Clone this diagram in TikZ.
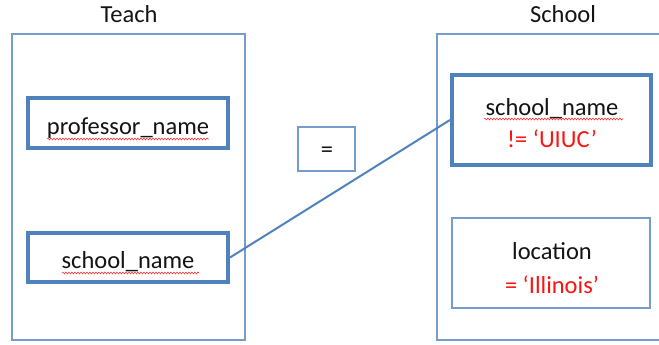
\documentclass[tikz,border=0pt]{standalone}
\usepackage{fontspec}
\setmainfont{Carlito}
\usetikzlibrary{decorations.pathmorphing}
\definecolor{thickblue}{RGB}{79,129,189}
\definecolor{thinblue}{RGB}{118,156,204}
\definecolor{txt}{RGB}{20,20,20}
\definecolor{redtxt}{RGB}{250,20,20}
\tikzset{
  outerbox/.style={draw=thinblue,line width=1.5pt,rectangle,inner sep=0pt},
  attrbox/.style={draw=thickblue,line width=4pt,fill=white,rectangle,inner sep=0pt},
  thinbox/.style={draw=thinblue,line width=1.5pt,fill=white,rectangle,inner sep=0pt},
  lbl/.style={text=txt,inner sep=0pt,anchor=base,font=\fontsize{24.5}{30}\selectfont},
  redlbl/.style={lbl,text=redtxt},
  link/.style={draw=thickblue,line width=2pt},
  squig/.style={draw=red!80,line width=0.6pt,decorate,
    decoration={snake,amplitude=0.9pt,segment length=3pt}}
}
\begin{document}
\begin{tikzpicture}[x=1pt,y=-1pt]
\useasboundingbox (0,0) rectangle (659,345);
\clip (0,0) rectangle (659,345);
% titles
\node[lbl] (tteach) at (129,23) {Teach};
\node[lbl] (tschool) at (563,23) {School};
% outer boxes
\node[outerbox,minimum width=233pt,minimum height=306pt] (teach) at (128.5,187) {};
\draw[draw=thinblue,line width=1.5pt] (437,34) rectangle (675,340);
% attribute boxes
\node[attrbox,minimum width=200pt,minimum height=50pt] (pn) at (128,123) {};
\node[lbl] (pnt) at (128,134) {professor\_name};
\node[attrbox,minimum width=200pt,minimum height=49pt] (sl) at (128,257.5) {};
\node[lbl] (slt) at (128,268) {school\_name};
\node[thinbox,minimum width=57pt,minimum height=44pt] (eq) at (326.5,149) {};
\node[lbl] (eqt) at (327,157) {=};
\node[attrbox,minimum width=199pt,minimum height=90pt] (sr) at (551.5,120) {};
\node[lbl] (srt) at (552,115) {school\_name};
\node[redlbl] (src) at (552,147) {!= ‘UIUC’};
\node[thinbox,minimum width=198pt,minimum height=90pt] (loc) at (551,263) {};
\node[lbl] (loct) at (552,259) {location};
\node[redlbl] (locc) at (552,293) {= ‘Illinois’};
% connector
\draw[link] (sl.east) -- (sr.west);
% spell-check squiggles
\draw[squig] (47,139) -- (209,139);
\draw[squig] (62,273) -- (199,273);
\draw[squig] (484,119) -- (623,119);
\end{tikzpicture}
\end{document}
